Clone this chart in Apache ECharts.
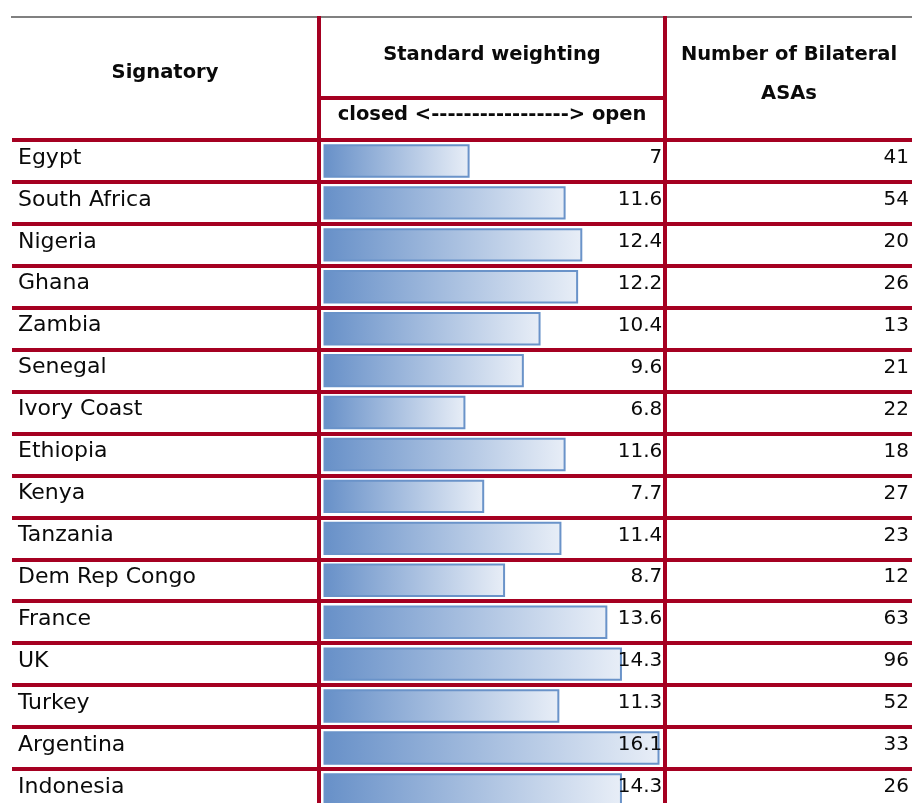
<!DOCTYPE html>
<html>
<head>
<meta charset="utf-8">
<script src="https://cdn.jsdelivr.net/npm/echarts@6/dist/echarts.min.js"></script>
<style>
html,body{margin:0;padding:0;background:#fff;overflow:hidden;}
#chart{width:912px;height:815px;}
</style>
</head>
<body>
<div id="chart"></div>
<script>
const countries = ["Egypt","South Africa","Nigeria","Ghana","Zambia","Senegal","Ivory Coast","Ethiopia","Kenya","Tanzania","Dem Rep Congo","France","UK","Turkey","Argentina","Indonesia"];
const weighting = [7, 11.6, 12.4, 12.2, 10.4, 9.6, 6.8, 11.6, 7.7, 11.4, 8.7, 13.6, 14.3, 11.3, 16.1, 14.3];
const bilateralASAs = [41, 54, 20, 26, 13, 21, 22, 18, 27, 23, 12, 63, 96, 52, 33, 26];
const headers = {
  signatory: "Signatory",
  weighting: "Standard weighting",
  scale: "closed <-----------------> open",
  asas1: "Number of Bilateral",
  asas2: "ASAs"
};

const RED = '#a50021';
const FONT = 'DejaVu Sans';
const rowTop = 140, rowH = 41.93;
const gridH = rowH * countries.length;

const chart = echarts.init(document.getElementById('chart'), null, {renderer: 'canvas'});

const hdr = (text, x, y) => ({
  type: 'text', x: x, y: y, z: 50,
  style: {text: text, fill: '#0a0a0a', font: 'bold 19.5px "' + FONT + '"', textAlign: 'center', textVerticalAlign: 'middle'}
});
const ln = (x1, y1, x2, y2, color, w) => ({
  type: 'line', z: 60, shape: {x1: x1, y1: y1, x2: x2, y2: y2},
  style: {stroke: color, lineWidth: w}
});
const lbl = (extra) => Object.assign({
  inside: true, color: '#0a0a0a', fontFamily: FONT, verticalAlign: 'bottom', lineHeight: 6
}, extra);

chart.setOption({
  animation: false,
  backgroundColor: '#fff',
  grid: [
    {left: 12, width: 900, top: rowTop, height: gridH},
    {left: 323.5, width: 354.8, top: rowTop, height: gridH}
  ],
  xAxis: [
    {gridIndex: 0, type: 'value', show: false, min: 0, max: 1},
    {gridIndex: 1, type: 'value', show: false, min: 0, max: 17}
  ],
  yAxis: [
    {
      gridIndex: 0, type: 'category', inverse: true, data: countries, position: 'left',
      axisLine: {show: false}, axisTick: {show: false},
      splitLine: {show: true, showMaxLine: false, lineStyle: {color: RED, width: 4}},
      axisLabel: lbl({margin: 6, fontSize: 22}),
      z: 40
    },
    {
      gridIndex: 0, type: 'category', inverse: true, data: countries, position: 'right',
      axisLine: {show: false}, axisTick: {show: false}, splitLine: {show: false},
      axisLabel: lbl({margin: 3, fontSize: 20, formatter: (v, i) => String(bilateralASAs[i])})
    },
    {
      gridIndex: 1, type: 'category', inverse: true, data: countries, position: 'left',
      axisLine: {show: false}, axisTick: {show: false}, splitLine: {show: false}, axisLabel: {show: false}
    },
    {
      gridIndex: 1, type: 'category', inverse: true, data: countries, position: 'right',
      axisLine: {show: false}, axisTick: {show: false}, splitLine: {show: false},
      axisLabel: lbl({margin: 16, fontSize: 20, formatter: (v, i) => String(weighting[i])}),
      z: 30
    }
  ],
  series: [
    {
      type: 'bar', xAxisIndex: 1, yAxisIndex: 2, data: weighting, barWidth: 33.4,
      itemStyle: {
        color: new echarts.graphic.LinearGradient(0, 0, 1, 0, [
          {offset: 0, color: '#6790c8'},
          {offset: 1, color: '#e8eef7'}
        ]),
        borderColor: '#6a93c9', borderWidth: 2
      },
      z: 5
    }
  ],
  graphic: [
    ln(11, 17, 912, 17, '#808080', 2),
    ln(319, 16, 319, 815, RED, 4),
    ln(665, 16, 665, 815, RED, 4),
    ln(319, 98, 665, 98, RED, 4),
    hdr(headers.signatory, 165, 73),
    hdr(headers.weighting, 492, 55),
    hdr(headers.scale, 492, 115),
    hdr(headers.asas1, 789, 55),
    hdr(headers.asas2, 789, 94)
  ]
});
</script>
</body>
</html>
